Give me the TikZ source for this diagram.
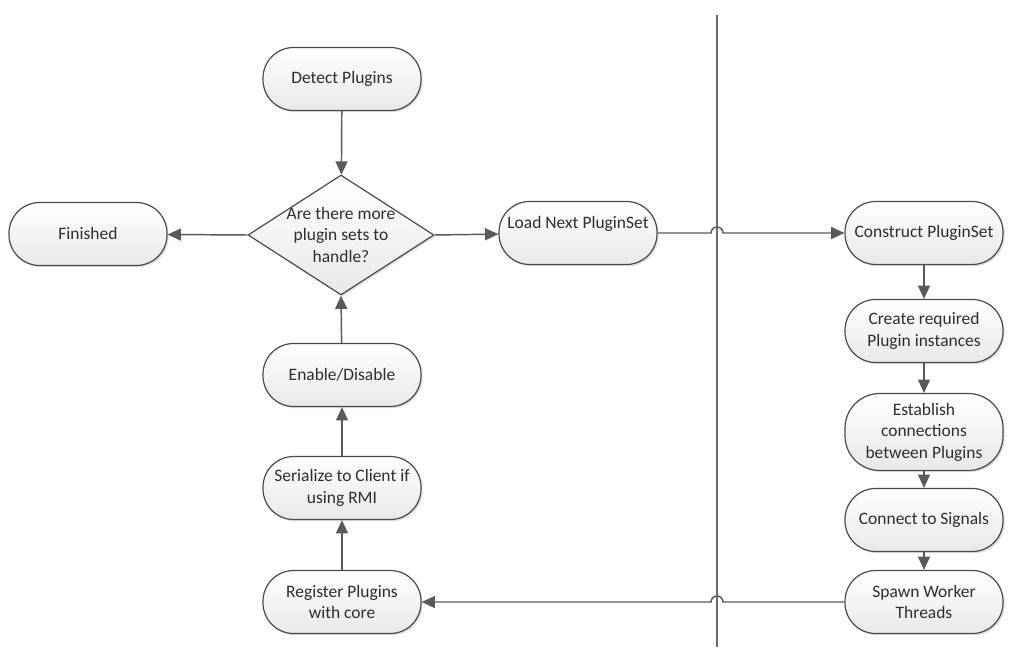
\documentclass[tikz,border=0pt]{standalone}
\usepackage{fontspec}
\setmainfont{Carlito}
\usetikzlibrary{shapes.geometric,arrows.meta,shadows}
\definecolor{edgec}{HTML}{4A4A4A}
\definecolor{txtc}{HTML}{2E2E2E}
\definecolor{linec}{HTML}{5A5A5A}
\tikzset{
  stepbox/.style={rectangle, draw=edgec, line width=0.9pt, rounded corners=23pt,
    minimum width=118.5pt, minimum height=47.25pt, inner sep=2pt, align=center,
    top color=white, bottom color=black!9, text=txtc,
    font=\fontsize{13.1}{16.1}\selectfont,
    drop shadow={shadow xshift=1.3pt, shadow yshift=-1.3pt, fill=black, opacity=0.12}},
  decbox/.style={diamond, draw=edgec, line width=0.9pt, minimum width=139.5pt,
    minimum height=90pt, inner sep=0pt,
    top color=white, bottom color=black!9,
    drop shadow={shadow xshift=1.3pt, shadow yshift=-1.3pt, fill=black, opacity=0.12}},
  conn/.style={draw=linec, line width=1.1pt, -{Triangle[length=10pt,width=9pt]}},
  divider/.style={draw=black!58, line width=1.2pt}
}
\begin{document}
\begin{tikzpicture}[x=0.75pt,y=-0.75pt]
\useasboundingbox (0,0) rectangle (1031,659);
% divider
\coordinate (dtop) at (717,15);
\coordinate (dbot) at (717,647);
\draw[divider] (dtop) -- (dbot);
% left column
\node[stepbox] (detect) at (342,79) {Detect Plugins};
\node[decbox, label={[align=center, text=txtc, font=\fontsize{13.1}{16.1}\selectfont]center:Are there more\\plugin sets to\\handle?}] (dec) at (341,235) {};
\node[stepbox] (fin) at (88,234) {Finished};
\node[stepbox] (load) at (578,233) {Load Next PluginSet\\\mbox{}};
\node[stepbox] (enable) at (342,375) {Enable/Disable};
\node[stepbox] (serial) at (342,488) {Serialize to Client if\\using RMI};
\node[stepbox] (reg) at (342,602) {Register Plugins\\with core};
% right column
\node[stepbox] (cons) at (924,233) {Construct PluginSet};
\node[stepbox] (create) at (924,331) {Create required\\Plugin instances};
\node[stepbox, minimum height=57.75pt, rounded corners=26pt] (estab) at (924,432) {Establish\\connections\\between Plugins};
\node[stepbox] (connect) at (924,520) {Connect to Signals};
\node[stepbox] (spawn) at (924,602) {Spawn Worker\\Threads};
% connectors
\draw[conn] (detect) -- (dec);
\draw[conn] (dec.west) -- (fin);
\draw[conn] (dec.east) -- (load);
\coordinate (hopA) at (711,233);
\draw[conn] (load.east) -- (hopA) arc[start angle=180, end angle=0, radius=4.5pt] -- (cons.west);
\draw[conn] (enable) -- (dec.south);
\draw[conn] (serial) -- (enable);
\draw[conn] (reg) -- (serial);
\draw[conn] (cons) -- (create);
\draw[conn] (create) -- (estab);
\draw[conn] (estab) -- (connect);
\draw[conn] (connect) -- (spawn);
\coordinate (hopB) at (723,602);
\draw[conn] (spawn.west) -- (hopB) arc[start angle=0, end angle=180, radius=4.5pt] -- (reg.east);
\end{tikzpicture}
\end{document}
